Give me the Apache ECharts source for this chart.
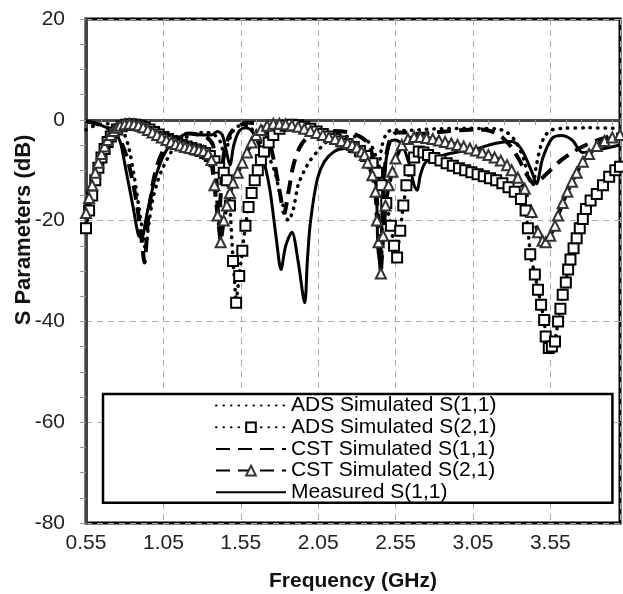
<!DOCTYPE html>
<html>
<head>
<meta charset="utf-8">
<script src="https://cdn.jsdelivr.net/npm/echarts@6/dist/echarts.min.js"></script>
<style>
  html, body { margin: 0; padding: 0; background: #fff; }
  #chart { width: 623px; height: 594px; }
</style>
</head>
<body>
<div id="chart"></div>
<script>
// [frequency GHz, dB]
const adsS11 = [[0.55,-2],[0.62,-1],[0.70,-0.8],[0.76,-1.5],[0.80,-3],[0.83,-6],[0.86,-11],[0.89,-17],[0.92,-23],[0.935,-25.8],[0.95,-22],[0.98,-16],[1.01,-12.5],[1.04,-10],[1.08,-7.5],[1.12,-5.5],[1.18,-3.8],[1.25,-2.8],[1.32,-2.5],[1.38,-3],[1.42,-4.5],[1.445,-7.5],[1.47,-4.5],[1.50,-2.2],[1.53,-1.3],[1.57,-1.1],[1.61,-1.5],[1.65,-3],[1.69,-5.3],[1.74,-8],[1.77,-10.3],[1.80,-14.3],[1.836,-18.3],[1.857,-20],[1.89,-17.7],[1.92,-13],[1.957,-10.3],[2.0,-8],[2.044,-6.3],[2.10,-4.5],[2.20,-3.3],[2.30,-3.3],[2.38,-4.5],[2.42,-7],[2.44,-9.5],[2.46,-5.5],[2.49,-2.8],[2.53,-2],[2.60,-2.1],[2.70,-2],[2.80,-1.8],[3.00,-1.7],[3.20,-1.8],[3.27,-2.5],[3.33,-4.5],[3.38,-8],[3.41,-11.5],[3.435,-13],[3.46,-9],[3.49,-5],[3.52,-3],[3.56,-2],[3.62,-1.7],[3.80,-1.6],[4.0,-1.7]];

const adsS21 = [[0.55,-21.5],[0.57,-18],[0.59,-15],[0.61,-12],[0.63,-9.5],[0.65,-7.5],[0.67,-5.8],[0.69,-4.4],[0.71,-3.3],[0.73,-2.5],[0.75,-1.9],[0.78,-1.3],[0.81,-1],[0.84,-0.9],[0.87,-1],[0.90,-1.2],[0.93,-1.5],[0.96,-1.9],[0.99,-2.4],[1.02,-2.9],[1.05,-3.4],[1.08,-3.8],[1.11,-4.2],[1.14,-4.6],[1.17,-5],[1.20,-5.3],[1.23,-5.6],[1.26,-5.9],[1.29,-6.2],[1.32,-6.6],[1.35,-7.2],[1.38,-8.2],[1.41,-9.5],[1.44,-10.5],[1.46,-12],[1.48,-17],[1.50,-28],[1.52,-36.3],[1.54,-31],[1.56,-26],[1.58,-21],[1.60,-17.3],[1.62,-14.5],[1.64,-12],[1.66,-10],[1.68,-8],[1.70,-6.3],[1.73,-4.5],[1.76,-3],[1.80,-1.8],[1.84,-1.2],[1.88,-1],[1.92,-1.1],[1.96,-1.4],[2.00,-1.8],[2.04,-2.3],[2.08,-2.8],[2.12,-3.3],[2.16,-3.8],[2.20,-4.3],[2.24,-4.8],[2.28,-5.4],[2.32,-6.2],[2.36,-7.2],[2.40,-8.6],[2.43,-10.5],[2.46,-13],[2.49,-16.5],[2.52,-21],[2.54,-25],[2.56,-27.3],[2.58,-22],[2.60,-17],[2.62,-13],[2.64,-10],[2.67,-7.5],[2.70,-6.3],[2.73,-6.5],[2.76,-7],[2.80,-7.6],[2.84,-8.1],[2.88,-8.6],[2.92,-9.1],[2.96,-9.6],[3.00,-10],[3.04,-10.4],[3.08,-10.8],[3.12,-11.2],[3.16,-11.6],[3.20,-12],[3.24,-12.6],[3.28,-13.4],[3.32,-14.3],[3.36,-15.7],[3.39,-18],[3.405,-21.5],[3.42,-26.7],[3.45,-30.7],[3.47,-33.7],[3.49,-36.7],[3.51,-39.7],[3.52,-43],[3.54,-45.3],[3.56,-45],[3.58,-44],[3.60,-40],[3.615,-37.5],[3.63,-34.7],[3.65,-32.3],[3.665,-29.7],[3.68,-27.7],[3.70,-25.5],[3.72,-23.5],[3.74,-21.5],[3.76,-19.7],[3.78,-17.7],[3.81,-16],[3.85,-14.7],[3.89,-13],[3.93,-11.3],[3.97,-10],[4.00,-9.3]];

const cstS11 = [[0.55,-0.3],[0.62,-0.8],[0.68,-1.5],[0.73,-2.5],[0.77,-4],[0.81,-7],[0.85,-12],[0.88,-17],[0.91,-24],[0.928,-28.3],[0.95,-20],[0.98,-13],[1.01,-9],[1.05,-6],[1.10,-4],[1.16,-3],[1.22,-2.7],[1.28,-3],[1.33,-3.5],[1.37,-5],[1.39,-10],[1.40,-17],[1.41,-21],[1.42,-15],[1.44,-7],[1.47,-3.5],[1.50,-2],[1.55,-1],[1.60,-0.6],[1.66,-0.8],[1.70,-2],[1.74,-5],[1.77,-9],[1.80,-14],[1.83,-18.5],[1.86,-14],[1.89,-9],[1.93,-5.5],[1.98,-3.5],[2.05,-2.5],[2.15,-2.2],[2.25,-2.5],[2.33,-3.5],[2.38,-5],[2.41,-9],[2.43,-16],[2.445,-24],[2.455,-28],[2.47,-15],[2.49,-7],[2.52,-3.5],[2.56,-2.5],[2.62,-2.5],[2.70,-2.8],[2.80,-2.5],[2.90,-2.2],[3.00,-2],[3.10,-1.9],[3.17,-2.3],[3.24,-3.5],[3.30,-5.5],[3.35,-8],[3.40,-11],[3.44,-12.5],[3.48,-12],[3.55,-10],[3.62,-8],[3.70,-6.3],[3.78,-5],[3.86,-4],[3.94,-3.2],[4.00,-2.8]];

const cstS21 = [[0.55,-18.5],[0.57,-15.5],[0.59,-13],[0.61,-10.5],[0.63,-8.5],[0.65,-6.8],[0.67,-5.3],[0.69,-4],[0.71,-3],[0.73,-2.2],[0.75,-1.6],[0.77,-1.2],[0.80,-0.9],[0.83,-0.8],[0.86,-0.9],[0.89,-1.1],[0.92,-1.5],[0.95,-2],[0.98,-2.5],[1.01,-3],[1.04,-3.5],[1.07,-4],[1.10,-4.4],[1.13,-4.8],[1.16,-5.1],[1.19,-5.4],[1.22,-5.6],[1.25,-5.8],[1.28,-6],[1.31,-6.2],[1.34,-6.8],[1.36,-8],[1.38,-13],[1.40,-19],[1.42,-24.3],[1.44,-20],[1.46,-17],[1.48,-14.5],[1.50,-12.5],[1.53,-10.5],[1.56,-8.5],[1.59,-6.5],[1.62,-4.5],[1.65,-3],[1.68,-2],[1.72,-1.2],[1.76,-0.8],[1.80,-0.8],[1.84,-0.9],[1.88,-1.1],[1.92,-1.4],[1.96,-1.8],[2.00,-2.2],[2.04,-2.6],[2.08,-3],[2.12,-3.4],[2.16,-3.8],[2.20,-4.2],[2.24,-4.6],[2.27,-5],[2.30,-5.5],[2.33,-6.3],[2.35,-7],[2.37,-8.5],[2.40,-11],[2.42,-14.3],[2.43,-20],[2.44,-24.3],[2.455,-30.5],[2.47,-23],[2.485,-17],[2.505,-13],[2.53,-10.3],[2.55,-7.7],[2.59,-5],[2.63,-3.8],[2.67,-3.4],[2.71,-3.4],[2.75,-3.6],[2.79,-3.8],[2.83,-4.1],[2.87,-4.4],[2.91,-4.7],[2.95,-5],[2.99,-5.3],[3.03,-5.7],[3.07,-6.1],[3.11,-6.5],[3.15,-7],[3.19,-7.5],[3.23,-8.1],[3.27,-9],[3.30,-10],[3.34,-11.5],[3.385,-13.7],[3.43,-18.3],[3.47,-22.3],[3.50,-24],[3.52,-24.3],[3.55,-23],[3.58,-21],[3.60,-19],[3.63,-16.5],[3.66,-14.3],[3.69,-12.3],[3.72,-10.5],[3.76,-8.3],[3.80,-6.8],[3.85,-5.2],[3.90,-4.2],[3.95,-3.5],[4.00,-3]];

const measuredS11 = [[0.55,-0.3],[0.64,-1],[0.73,-2.3],[0.77,-4.3],[0.79,-7],[0.81,-10.3],[0.84,-15],[0.86,-18.3],[0.89,-23],[0.913,-23.3],[0.93,-21],[0.946,-18.3],[0.97,-15],[0.99,-12.3],[1.034,-8.3],[1.077,-5.7],[1.143,-3.7],[1.21,-2.7],[1.30,-3],[1.36,-3],[1.40,-2.3],[1.43,-3],[1.455,-6],[1.48,-9],[1.505,-5],[1.54,-2.2],[1.58,-1.6],[1.62,-2.2],[1.66,-4.5],[1.69,-7],[1.737,-13.7],[1.78,-23.7],[1.81,-29.7],[1.84,-25],[1.88,-22.3],[1.92,-28],[1.963,-36.3],[1.98,-28],[2.0,-20.3],[2.045,-11.7],[2.09,-8.3],[2.154,-6.3],[2.22,-5.7],[2.31,-6.3],[2.37,-7.7],[2.42,-11.7],[2.436,-25.7],[2.45,-28.3],[2.465,-18],[2.484,-9],[2.517,-4.3],[2.55,-4],[2.60,-5.5],[2.64,-9],[2.67,-13],[2.69,-14],[2.71,-11],[2.748,-8.3],[2.86,-7],[2.97,-6.3],[3.08,-5.7],[3.19,-4.7],[3.30,-4.3],[3.36,-5.7],[3.43,-10.3],[3.46,-12.7],[3.50,-7.7],[3.56,-3.7],[3.62,-3.1],[3.69,-4],[3.76,-6.5],[3.85,-6],[3.93,-5.5],[4.0,-5]];

const seriesNames = ['ADS Simulated S(1,1)', 'ADS Simulated S(2,1)', 'CST Simulated S(1,1)', 'CST Simulated S(2,1)', 'Measured S(1,1)'];

const font = 'Liberation Sans, Arial, sans-serif';
const dotted = [0.5, 7];
const dashed = [14, 8];
// no marker drawn in the legend for the plain line series
const noMarker = { color: 'rgba(0,0,0,0)', borderWidth: 0 };

const chart = echarts.init(document.getElementById('chart'));

const option = {
  animation: false,
  backgroundColor: '#fff',
  grid: {
    left: 86,
    right: 3,
    top: 19,
    bottom: 71,
    outerBoundsMode: 'none',
    show: true,
    borderColor: '#000',
    borderWidth: 3,
  },
  legend: {
    orient: 'vertical',
    left: 103,
    top: 394,
    padding: [1, 116, 0, 112],
    itemWidth: 70,
    itemHeight: 12,
    itemGap: 0.7,
    borderColor: '#000',
    borderWidth: 2.5,
    backgroundColor: '#fff',
    textStyle: { fontFamily: font, fontSize: 21, lineHeight: 21, color: '#000' },
    data: [
      { name: seriesNames[0], itemStyle: noMarker },
      { name: seriesNames[1] },
      { name: seriesNames[2], itemStyle: noMarker },
      { name: seriesNames[3] },
      { name: seriesNames[4], itemStyle: noMarker },
    ],
  },
  xAxis: {
    type: 'value',
    min: 0.55,
    max: 4.0,
    interval: 0.5,
    name: 'Frequency (GHz)',
    nameLocation: 'middle',
    nameGap: 48,
    nameTextStyle: { fontFamily: font, fontSize: 21, fontWeight: 'bold', color: '#111' },
    axisLine: { show: true, lineStyle: { color: '#444', width: 3 } },
    axisTick: { show: true, length: 5, lineStyle: { color: '#999' } },
    minorTick: { show: true, splitNumber: 5, length: 5, lineStyle: { color: '#999' } },
    axisLabel: {
      fontFamily: font,
      fontSize: 21,
      color: '#222',
      margin: 10,
      showMaxLabel: false,
      formatter: (v) => v.toFixed(2),
    },
    splitLine: { show: true, lineStyle: { color: '#aaa', type: [6, 5], width: 1 } },
  },
  yAxis: {
    type: 'value',
    min: -80,
    max: 20,
    interval: 20,
    name: 'S Parameters (dB)',
    nameLocation: 'middle',
    nameGap: 51,
    nameMoveOverlap: false,
    nameTextStyle: { fontFamily: font, fontSize: 22, fontWeight: 'bold', color: '#111', padding: [0, 0, 0, 82] },
    axisLine: { show: true, lineStyle: { color: '#444', width: 3 } },
    axisTick: { show: true, length: 6, lineStyle: { color: '#999' } },
    minorTick: { show: true, splitNumber: 4, length: 6, lineStyle: { color: '#999' } },
    axisLabel: { fontFamily: font, fontSize: 21, color: '#222', margin: 21 },
    splitLine: { show: true, lineStyle: { color: '#aaa', type: [6, 5], width: 1 } },
  },
  series: [
    {
      name: seriesNames[0],
      type: 'line',
      data: adsS11,
      symbol: 'none',
      smooth: 0.3,
      lineStyle: { color: '#000', width: 3.5, type: dotted, cap: 'round' },
      itemStyle: { color: '#000' },
    },
    {
      name: seriesNames[1],
      type: 'line',
      data: adsS21,
      symbol: 'emptyRect',
      symbolSize: 10,
      showAllSymbol: true,
      lineStyle: { color: '#000', width: 3.5, type: dotted, cap: 'round' },
      itemStyle: { color: '#000', borderColor: '#000', borderWidth: 1.2 },
    },
    {
      name: seriesNames[2],
      type: 'line',
      data: cstS11,
      symbol: 'none',
      smooth: 0.3,
      lineStyle: { color: '#000', width: 4, type: dashed },
      itemStyle: { color: '#000' },
    },
    {
      name: seriesNames[3],
      type: 'line',
      data: cstS21,
      symbol: 'emptyTriangle',
      symbolSize: 10,
      showAllSymbol: true,
      lineStyle: { color: '#000', width: 4, type: dashed },
      itemStyle: { color: '#333', borderColor: '#333', borderWidth: 1 },
    },
    {
      name: seriesNames[4],
      type: 'line',
      data: measuredS11,
      symbol: 'none',
      smooth: 0.3,
      lineStyle: { color: '#000', width: 3 },
      itemStyle: { color: '#000' },
    },
  ],
};

chart.setOption(option);
window.addEventListener('resize', () => chart.resize());
</script>
</body>
</html>
